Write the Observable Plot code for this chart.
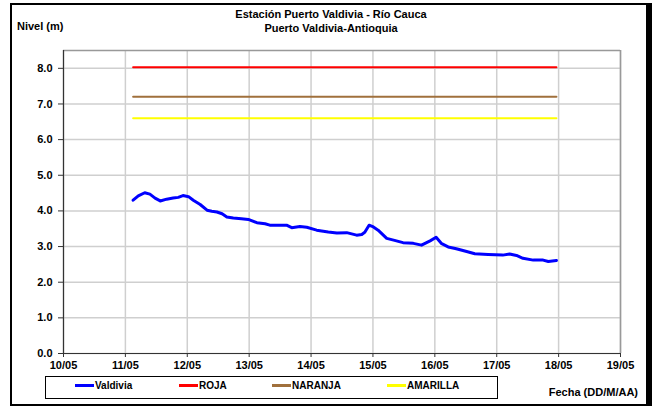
<!DOCTYPE html>
<html>
<head>
<meta charset="utf-8">
<script src="https://cdn.jsdelivr.net/npm/d3@7"></script>
<script src="https://cdn.jsdelivr.net/npm/@observablehq/plot@0.6"></script>
<style>
  html, body { margin: 0; padding: 0; background: #fff; }
  #wrap { position: relative; width: 652px; height: 408px; overflow: hidden; font-family: "Liberation Sans", Arial, sans-serif; }
  #border { position: absolute; left: 10px; top: 3px; width: 634px; height: 399px; border-style: solid; border-color: #000; border-width: 2px 6px 2px 2px; }
  .t { position: absolute; font-weight: bold; color: #000; white-space: nowrap; }
  #legend { position: absolute; left: 45px; top: 376px; width: 453px; height: 23px; border: 1px solid #000; box-sizing: border-box; }
  .li { position: absolute; top: 3px; font-size: 10px; font-weight: bold; display: flex; align-items: center; }
  .sw { display: inline-block; width: 19px; height: 3px; margin-right: 1px; }
  #chart { position: absolute; left: 0; top: 0; }
</style>
</head>
<body>
<div id="wrap">
  <div id="chart"></div>
  <div id="border"></div>
  <div class="t" style="left:0;width:662px;text-align:center;top:8px;font-size:11px;">Estación Puerto Valdivia - Río Cauca</div>
  <div class="t" style="left:0;width:662px;text-align:center;top:22px;font-size:11px;">Puerto Valdivia-Antioquia</div>
  <div class="t" style="left:17px;top:20px;font-size:11px;">Nivel (m)</div>
  <div class="t" style="left:520px;width:118px;text-align:right;top:386px;font-size:11px;">Fecha (DD/M/AA)</div>
  <div id="legend"></div>
</div>
<script>
// Observed level series (station Puerto Valdivia)
const times = [
  "2018-05-11T03:00Z","2018-05-11T05:00Z","2018-05-11T07:30Z","2018-05-11T09:30Z","2018-05-11T11:30Z",
  "2018-05-11T13:30Z","2018-05-11T16:00Z","2018-05-11T18:30Z","2018-05-11T20:30Z","2018-05-11T22:20Z",
  "2018-05-12T00:30Z","2018-05-12T02:20Z","2018-05-12T05:00Z","2018-05-12T07:40Z","2018-05-12T09:30Z",
  "2018-05-12T11:30Z","2018-05-12T13:30Z","2018-05-12T15:20Z","2018-05-12T17:50Z","2018-05-12T21:00Z",
  "2018-05-12T23:40Z","2018-05-13T03:00Z","2018-05-13T06:10Z","2018-05-13T08:00Z","2018-05-13T14:30Z",
  "2018-05-13T16:30Z","2018-05-13T19:40Z","2018-05-13T22:20Z","2018-05-14T02:10Z","2018-05-14T06:40Z",
  "2018-05-14T10:00Z","2018-05-14T13:50Z","2018-05-14T17:40Z","2018-05-14T19:40Z","2018-05-14T20:50Z",
  "2018-05-14T22:30Z","2018-05-15T00:10Z","2018-05-15T02:00Z","2018-05-15T05:20Z","2018-05-15T08:00Z",
  "2018-05-15T11:40Z","2018-05-15T15:40Z","2018-05-15T18:50Z","2018-05-15T22:10Z","2018-05-16T00:30Z",
  "2018-05-16T02:40Z","2018-05-16T05:10Z","2018-05-16T08:20Z","2018-05-16T12:20Z","2018-05-16T15:30Z",
  "2018-05-16T20:40Z","2018-05-17T02:20Z","2018-05-17T05:00Z","2018-05-17T07:40Z","2018-05-17T10:10Z",
  "2018-05-17T14:10Z","2018-05-17T18:00Z","2018-05-17T20:00Z","2018-05-17T23:10Z"
];
const niveles = [
  4.30,4.42,4.51,4.47,4.36,
  4.28,4.33,4.36,4.38,4.43,
  4.40,4.30,4.18,4.02,3.99,
  3.97,3.92,3.83,3.80,3.78,
  3.76,3.67,3.64,3.60,3.60,
  3.53,3.56,3.54,3.46,3.41,
  3.38,3.39,3.32,3.34,3.40,
  3.60,3.55,3.46,3.23,3.18,
  3.11,3.09,3.04,3.16,3.26,
  3.08,2.99,2.94,2.86,2.80,
  2.78,2.76,2.79,2.75,2.67,
  2.62,2.62,2.58,2.61
];
// Alert thresholds
const alertNames = ["ROJA", "NARANJA", "AMARILLA"];
const alertLevels = [8.03, 7.2, 6.6];
// Axis ticks
const xTickLabels = ["10/05","11/05","12/05","13/05","14/05","15/05","16/05","17/05","18/05","19/05"];
const yTicks = [0,1,2,3,4,5,6,7,8];

const seriesColor = "#0000ff";
const alertColors = ["#ff0000", "#a0703c", "#ffff00"];

const parse = s => new Date(s);
const data = times.map((t, i) => ({date: parse(t), nivel: niveles[i]}));
const xTicks = xTickLabels.map(l => {
  const [d, m] = l.split("/").map(Number);
  return new Date(Date.UTC(2018, m - 1, d));
});
const xStart = data[0].date, xEnd = data[data.length - 1].date;

const alertMarks = alertLevels.map((v, i) =>
  Plot.line([{date: xStart, y: v}, {date: xEnd, y: v}], {x: "date", y: "y", stroke: alertColors[i], strokeWidth: 2})
);

const chart = Plot.plot({
  width: 652,
  height: 408,
  marginLeft: 63,
  marginRight: 32,
  marginTop: 50,
  marginBottom: 55,
  style: {fontFamily: "'Liberation Sans', Arial, sans-serif", fontSize: "11px", fontWeight: "bold", color: "#000", background: "transparent"},
  x: {type: "utc", domain: [xTicks[0], xTicks[xTicks.length - 1]]},
  y: {domain: [0, 8.5]},
  marks: [
    Plot.gridX(xTicks, {stroke: "#cfcfcf", strokeOpacity: 1, strokeWidth: 1.5}),
    Plot.gridY(yTicks, {stroke: "#cfcfcf", strokeOpacity: 1, strokeWidth: 1.5}),
    Plot.ruleY([8.5], {stroke: "#999", strokeWidth: 1.5}),
    Plot.ruleX([xTicks[xTicks.length - 1]], {stroke: "#999", strokeWidth: 1.5}),
    ...alertMarks,
    Plot.line(data, {x: "date", y: "nivel", stroke: seriesColor, strokeWidth: 3, strokeLinejoin: "round"}),
    Plot.ruleY([0], {stroke: "#333", strokeWidth: 1.2}),
    Plot.ruleX([xTicks[0]], {stroke: "#333", strokeWidth: 1.2}),
    Plot.axisX(xTicks, {tickFormat: (d, i) => xTickLabels[i], tickSize: 4, tickPadding: 4, label: null, fontWeight: "bold", fontSize: 11, stroke: "#333"}),
    Plot.axisY(yTicks, {tickFormat: d3.format(".1f"), tickSize: 5, tickPadding: 6, label: null, fontWeight: "bold", fontSize: 11, stroke: "#333"})
  ]
});
document.getElementById("chart").appendChild(chart);

// Legend
const legendItems = [
  {name: "Valdivia", color: seriesColor, left: 29},
  {name: alertNames[0], color: alertColors[0], left: 133},
  {name: alertNames[1], color: alertColors[1], left: 226},
  {name: alertNames[2], color: alertColors[2], left: 341}
];
const lg = document.getElementById("legend");
legendItems.forEach(it => {
  const el = document.createElement("div");
  el.className = "li";
  el.style.left = it.left + "px";
  const sw = document.createElement("span");
  sw.className = "sw";
  sw.style.background = it.color;
  el.appendChild(sw);
  el.appendChild(document.createTextNode(it.name));
  lg.appendChild(el);
});
</script>
</body>
</html>
